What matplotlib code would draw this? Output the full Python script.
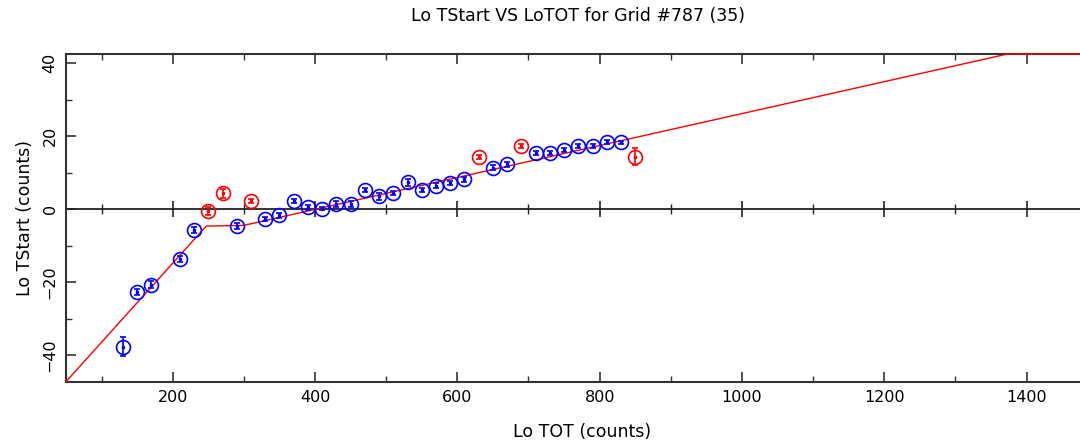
import matplotlib.pyplot as plt
import numpy as np

# blue points (used in fit)
bx = [130, 150, 170, 210, 230, 290, 330, 350, 370, 390, 410, 430, 450, 470, 490,
      510, 530, 550, 570, 590, 610, 650, 670, 710, 730, 750, 770, 790, 810, 830]
by = [-37.6, -22.7, -20.6, -13.7, -5.7, -4.6, -2.7, -1.7, 2.3, 0.5, 0.2, 1.5, 1.4, 5.3, 3.5,
      4.4, 7.4, 5.2, 6.5, 7.2, 8.2, 11.4, 12.3, 15.4, 15.4, 16.2, 17.4, 17.4, 18.5, 18.3]
be = [2.6, 0.9, 1.0, 0.8, 0.8, 0.8, 0.6, 0.6, 0.5, 0.7, 0.5, 0.8, 0.8, 0.6, 0.9,
      0.6, 1.0, 0.6, 0.6, 0.6, 0.6, 0.6, 0.6, 0.6, 0.6, 0.6, 0.6, 0.5, 0.6, 0.5]

# red points (rejected)
rx = [250, 270, 310, 630, 690, 850]
ry = [-0.6, 4.4, 2.3, 14.3, 17.3, 14.4]
re = [1.1, 1.2, 0.5, 0.5, 0.5, 2.4]

# fit line knots
fx = [50, 247, 300, 1373, 1500]
fy = [-47.2, -4.6, -4.4, 42.5, 42.5]

xmin, xmax = 50, 1500
ymin, ymax = -47.2, 42.5

fig = plt.figure(figsize=(10.8, 4.43), dpi=100)
ax = fig.add_axes([0.0611, 0.1384, 0.9553, 0.7396])
ax.set_xlim(xmin, xmax)
ax.set_ylim(ymin, ymax)

ax.plot(fx, fy, color='#ff0000', lw=1.0, clip_on=False, zorder=3)

for xs, ys, es, c in [(bx, by, be, '#0000ff'), (rx, ry, re, '#ff0000')]:
    ax.errorbar(xs, ys, yerr=es, fmt='none', ecolor=c, elinewidth=1.2, capsize=2.5, capthick=1.2, zorder=4)
    ax.plot(xs, ys, 'o', mfc='none', mec=c, mew=1.2, ms=10, zorder=4)
    ax.plot(xs, ys, 's', color=c, ms=2, zorder=4)

# zero line with its own ticks
ax.axhline(0, color='#222222', lw=1.3, zorder=2)
zero = ax.secondary_xaxis((0 - ymin) / (ymax - ymin))
zero.set_xticks(np.arange(200, 1600, 200))
zero.set_xticks(np.arange(100, 1600, 200), minor=True)
zero.tick_params(which='major', direction='inout', length=11, width=1.2, color='#222222')
zero.tick_params(which='minor', direction='inout', length=6.5, width=1.0, color='#222222')
zero.spines['bottom'].set_visible(False)
zero.spines['top'].set_visible(False)
zero.set_xticklabels([])

ax.set_xticks(np.arange(200, 1600, 200))
ax.set_xticks(np.arange(100, 1600, 100), minor=True)
ax.set_yticks([-40, -20, 0, 20, 40])
ax.set_yticks(np.arange(-40, 50, 10), minor=True)
ax.tick_params(which='major', direction='in', length=7, width=1.2, color='#333333',
               top=True, right=False, labelsize=11.5, pad=6)
ax.tick_params(which='minor', direction='in', length=4, width=1.0, color='#333333', top=True, right=False)
for lab in ax.get_yticklabels():
    lab.set_rotation(90)
    lab.set_va('center')
for s in ['left', 'bottom', 'top']:
    ax.spines[s].set_color('#333333')
    ax.spines[s].set_linewidth(1.5)
ax.spines['right'].set_visible(False)

ax.set_xlabel('Lo TOT (counts)', fontsize=12.5, labelpad=13)
ax.set_ylabel('Lo TStart (counts)', fontsize=12.5, labelpad=6)
ax.set_title('Lo TStart VS LoTOT for Grid #787 (35)', fontsize=12.5, pad=24, x=0.4965)

fig.savefig('out.png', dpi=100)
